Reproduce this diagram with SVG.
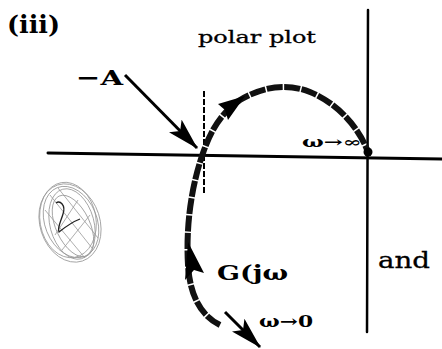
<svg xmlns="http://www.w3.org/2000/svg" width="442" height="349" viewBox="0 0 442 349">
<style>
.ax{stroke:#000;stroke-width:3;fill:none;stroke-linecap:round}
.lbl{font-family:"DejaVu Serif","Liberation Serif",serif;fill:#000}
.b{font-weight:bold}
.hv{stroke:#000;stroke-width:0.3}
.curve{stroke:#111;stroke-width:6;fill:none;stroke-dasharray:16 1.5;stroke-linecap:butt}
.arr{stroke:#000;stroke-width:3;fill:none}
.scr{stroke:#999;stroke-width:0.8;fill:none}
</style>
<defs>
<marker id="ah" viewBox="0 0 32 18" refX="31" refY="9" markerWidth="32" markerHeight="18" markerUnits="userSpaceOnUse" orient="auto">
<path d="M0,0 L32,9 L0,18 L7,9 Z" fill="#000"/>
</marker>
</defs>
<rect width="442" height="349" fill="#fff"/>
<g id="axes">
<line class="ax" x1="48" y1="153" x2="442" y2="159"/>
<line class="ax" x1="368" y1="10" x2="367" y2="332" style="stroke-width:2.5"/>
<line x1="204" y1="91" x2="204" y2="195" stroke="#000" stroke-width="2" stroke-dasharray="6 2"/>
</g>
<g id="polar-curve">
<path class="curve" d="M220,325 C200,315 190,295 188,265 C186,230 190,190 203,153 C211,130 221,113 240,100 C260,88 285,82 310,92 C335,102 358,125 368,152"/>
<circle cx="368" cy="152" r="4.5" fill="#000"/>
<path d="M245,96 L218,104 L225,110 L228,120 Z" fill="#000"/>
<path d="M188,242 L204,273 L194,270 L185,280 Z" fill="#000"/>
</g>
<g id="connectors">
<line class="arr" x1="125" y1="75" x2="197" y2="148" marker-end="url(#ah)"/>
<line class="arr" x1="225" y1="312" x2="260" y2="347" marker-end="url(#ah)"/>
</g>
<g id="scribble">
<ellipse class="scr" cx="70" cy="223" rx="30" ry="40" transform="rotate(-18 70 223)"/>
<ellipse class="scr" cx="71" cy="222" rx="26" ry="37" transform="rotate(-22 71 222)"/>
<ellipse class="scr" cx="72" cy="224" rx="22" ry="36" transform="rotate(-15 72 224)"/>
<ellipse class="scr" cx="73" cy="226" rx="17" ry="33" transform="rotate(-25 73 226)"/>
<ellipse class="scr" cx="68" cy="220" rx="28" ry="38" transform="rotate(-10 68 220)"/>
<path class="scr" d="M50,195 L92,248 M45,210 L85,258 M58,188 L98,238 M55,235 L78,200 M62,250 L90,215"/>
<path d="M56,203 C60,200 66,205 63,214 C61,221 57,228 59,232 C64,228 72,222 80,219" stroke="#222" stroke-width="1.3" fill="none"/>
</g>
<g id="labels">
<text class="lbl b" x="7" y="33" font-size="24" textLength="53" lengthAdjust="spacingAndGlyphs">(iii)</text>
<text class="lbl hv" x="198" y="43" font-size="17" textLength="118" lengthAdjust="spacingAndGlyphs">polar plot</text>
<text class="lbl b" x="76" y="85" font-size="21" textLength="47" lengthAdjust="spacingAndGlyphs">−A</text>
<text class="lbl b" x="302" y="147" font-size="14" textLength="60" lengthAdjust="spacingAndGlyphs">ω→∞</text>
<text class="lbl b" x="217" y="280" font-size="21" textLength="71" lengthAdjust="spacingAndGlyphs">G(jω</text>
<text class="lbl hv" x="378" y="268" font-size="22" textLength="52" lengthAdjust="spacingAndGlyphs">and</text>
<text class="lbl b" x="259" y="327" font-size="16" textLength="54" lengthAdjust="spacingAndGlyphs">ω→0</text>
</g>
</svg>
